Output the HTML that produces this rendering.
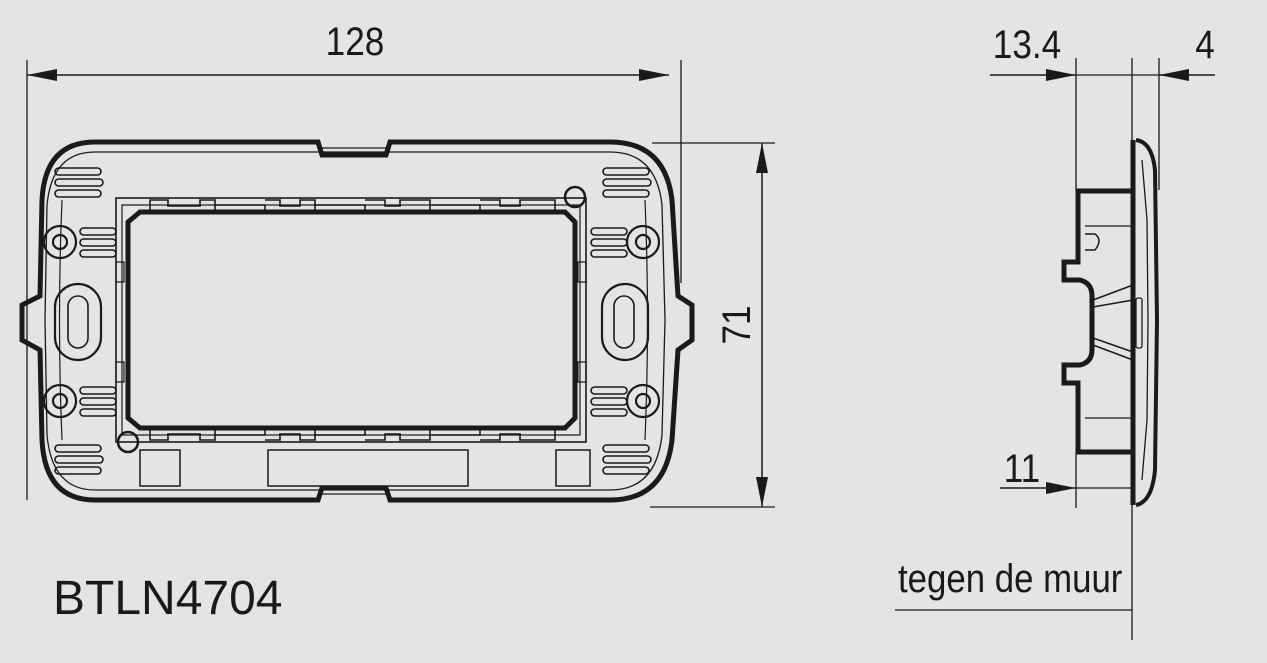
<!DOCTYPE html>
<html><head><meta charset="utf-8"><style>
html,body{margin:0;padding:0;background:#e3e4e6;}
svg{display:block;}
text{font-family:"Liberation Sans Narrow","Liberation Sans",sans-serif;fill:#1a1a1a;}
</style></head><body>
<svg width="1267" height="663" viewBox="0 0 1267 663" xmlns="http://www.w3.org/2000/svg">
<defs>
<marker id="b" viewBox="0 0 30 12" refX="30" refY="6" markerWidth="30" markerHeight="12" markerUnits="userSpaceOnUse" orient="auto-start-reverse"><path d="M0,0 L30,6 L0,12 z" fill="#1a1a1a"/></marker>
<g id="slotset" fill="none" stroke="#1a1a1a" stroke-width="1.6">
<rect x="0" y="0" width="46" height="7" rx="3.5"/>
<rect x="0" y="11" width="48" height="7" rx="3.5"/>
<rect x="0" y="22" width="46" height="7" rx="3.5"/>
</g>
<g id="slotset2" fill="none" stroke="#1a1a1a" stroke-width="1.6">
<rect x="0" y="0" width="36" height="7" rx="3.5"/>
<rect x="0" y="11" width="36" height="7" rx="3.5"/>
<rect x="0" y="22" width="36" height="7" rx="3.5"/>
</g>
</defs>
<g stroke="#1a1a1a" fill="none">
<line x1="27" y1="60" x2="27" y2="500" stroke-width="1.3"/>
<line x1="681" y1="60" x2="681" y2="283" stroke-width="1.3"/>
<line x1="27" y1="75" x2="669" y2="75" stroke-width="1.5" marker-start="url(#b)" marker-end="url(#b)"/>
<line x1="652" y1="143" x2="775" y2="143" stroke-width="1.3"/>
<line x1="650" y1="507" x2="775" y2="507" stroke-width="1.3"/>
<line x1="762" y1="143" x2="762" y2="507" stroke-width="1.5" marker-start="url(#b)" marker-end="url(#b)"/>

<path d="M95,142 L318,142 L322,155 L386,155 L390,142 L610,142 Q665,142 672,200 L678,296 L692,305 L692,340 L678,350 L672,440 Q665,500 610,500 L390,500 L386,488 L322,488 L318,500 L95,500 Q45,500 42,440 L40,350 L22,340 L22,305 L40,296 L42,200 Q45,142 95,142 Z" stroke-width="5"/>
<path d="M95,152 L610,152 Q656,152 662,205 L665,320 L662,435 Q656,490 610,490 L95,490 Q52,490 47,435 L45,320 L47,205 Q52,152 95,152 Z" stroke-width="1.3"/>
<path d="M62,200 Q57,320 62,440 M645,200 Q650,320 645,440" stroke-width="1.2"/>
<line x1="318" y1="148" x2="390" y2="148" stroke-width="1.2"/>
<line x1="318" y1="494" x2="390" y2="494" stroke-width="1.2"/>
<rect x="116" y="198" width="470" height="244" stroke-width="1.6"/>
<rect x="122" y="205" width="458" height="230" stroke-width="1.2"/>
<path d="M140,212 L565,212 L575,222 L575,418 L565,428 L140,428 L128,418 L128,222 Z" stroke-width="5"/>
<g stroke-width="1.6">
<path d="M150,212 L150,200 L168,200 L168,206 L200,206 L200,200 L215,200 L215,212 M215,205 L265,205 L265,212 M265,200 L280,200 L280,206 L300,206 L300,200 L315,200 L315,212 M315,205 L365,205 L365,212 M365,200 L385,200 L385,206 L400,206 L400,200 L430,200 L430,212 M430,205 L480,205 L480,212 M480,200 L500,200 L500,206 L520,206 L520,200 L555,200 L555,212"/>
<path d="M150,428 L150,440 L168,440 L168,434 L200,434 L200,440 L215,440 L215,428 M215,435 L265,435 L265,428 M265,440 L280,440 L280,434 L300,434 L300,440 L315,440 L315,428 M315,435 L365,435 L365,428 M365,440 L385,440 L385,434 L400,434 L400,440 L430,440 L430,428 M430,435 L480,435 L480,428 M480,440 L500,440 L500,434 L520,434 L520,440 L555,440 L555,428"/>
</g>
<rect x="140" y="450" width="40" height="36" stroke-width="1.5"/>
<rect x="268" y="450" width="200" height="36" stroke-width="1.5"/>
<rect x="556" y="450" width="34" height="36" stroke-width="1.5"/>
<rect x="116" y="262" width="8" height="20" stroke-width="1.2"/>
<rect x="116" y="362" width="8" height="20" stroke-width="1.2"/>
<rect x="578" y="262" width="8" height="20" stroke-width="1.2"/>
<rect x="578" y="362" width="8" height="20" stroke-width="1.2"/>
<circle cx="575" cy="197" r="10" stroke-width="2.5"/>
<circle cx="128" cy="442" r="10" stroke-width="2.5"/>
<g stroke-width="2.2">
<circle cx="60" cy="242" r="16"/><circle cx="60" cy="242" r="7"/>
<circle cx="60" cy="401" r="16"/><circle cx="60" cy="401" r="7"/>
<circle cx="643" cy="242" r="16"/><circle cx="643" cy="242" r="7"/>
<circle cx="643" cy="401" r="16"/><circle cx="643" cy="401" r="7"/>
</g>
<g stroke-width="2.2">
<rect x="55" y="284" width="46" height="76" rx="23"/>
<rect x="68" y="296" width="20" height="52" rx="10" stroke-width="1.6"/>
<rect x="602" y="284" width="46" height="76" rx="23"/>
<rect x="614" y="296" width="20" height="52" rx="10" stroke-width="1.6"/>
</g>
</g>
<use href="#slotset" x="55" y="168"/>
<use href="#slotset" x="55" y="445"/>
<use href="#slotset2" x="80" y="228"/>
<use href="#slotset2" x="80" y="387"/>
<use href="#slotset" x="603" y="168"/>
<use href="#slotset" x="603" y="445"/>
<use href="#slotset2" x="591" y="228"/>
<use href="#slotset2" x="591" y="387"/>

<g stroke="#1a1a1a" fill="none">
<line x1="1076" y1="58" x2="1076" y2="190" stroke-width="1.3"/>
<line x1="1076" y1="452" x2="1076" y2="508" stroke-width="1.3"/>
<line x1="1132" y1="58" x2="1132" y2="640" stroke-width="1.3"/>
<line x1="1159" y1="58" x2="1159" y2="190" stroke-width="1.3"/>
<line x1="990" y1="75" x2="1076" y2="75" stroke-width="1.5" marker-end="url(#b)"/>
<line x1="1076" y1="75" x2="1159" y2="75" stroke-width="1.3"/>
<line x1="1215" y1="75" x2="1159" y2="75" stroke-width="1.5" marker-end="url(#b)"/>
<line x1="1000" y1="488" x2="1076" y2="488" stroke-width="1.5" marker-end="url(#b)"/>
<line x1="1076" y1="488" x2="1132" y2="488" stroke-width="1.3"/>
<line x1="895" y1="610" x2="1132" y2="610" stroke-width="1.3"/>
<path d="M1134,191 L1078,191 L1078,262 L1064,262 L1064,280 L1080,280 Q1092,283 1092,296 L1092,350 Q1092,362 1080,365 L1064,365 L1064,383 L1078,383 L1078,452 L1134,452" stroke-width="5"/>
<path d="M1133,140 L1133,505" stroke-width="5"/>
<path d="M1136,140 Q1152,142 1155,170 L1157,320 L1155,470 Q1152,502 1136,505" stroke-width="4"/>
<path d="M1142,160 L1147,220 L1148,320 L1147,420 L1142,480" stroke-width="1.3"/>
<line x1="1085" y1="226" x2="1133" y2="226" stroke-width="1.3"/>
<line x1="1085" y1="418" x2="1133" y2="418" stroke-width="1.3"/>
<path d="M1085,234 L1095,234 Q1103,240 1095,250 L1085,250" stroke-width="1.5"/>
<path d="M1093,300 L1133,285 M1093,307 L1133,300 M1093,338 L1133,352 M1093,345 L1133,360" stroke-width="1.5"/>
<rect x="1136" y="298" width="6" height="50" rx="2" stroke-width="1.3"/>
</g>

<text x="355" y="55" font-size="40" text-anchor="middle" transform="translate(355 0) scale(0.88 1) translate(-355 0)">128</text>
<text x="0" y="0" font-size="40" text-anchor="middle" transform="translate(750 325) rotate(-90) scale(0.88 1)">71</text>
<text x="1027" y="58" font-size="40" text-anchor="middle" transform="translate(1027 0) scale(0.88 1) translate(-1027 0)">13.4</text>
<text x="1205" y="58" font-size="40" text-anchor="middle" transform="translate(1205 0) scale(0.88 1) translate(-1205 0)">4</text>
<text x="1022" y="482" font-size="40" text-anchor="middle" transform="translate(1022 0) scale(0.88 1) translate(-1022 0)">11</text>
<text x="898" y="592" font-size="40" transform="translate(898 0) scale(0.87 1) translate(-898 0)">tegen de muur</text>
<text x="53" y="614" font-size="48" style="font-family:'Liberation Sans',sans-serif">BTLN4704</text>
</svg>
</body></html>
